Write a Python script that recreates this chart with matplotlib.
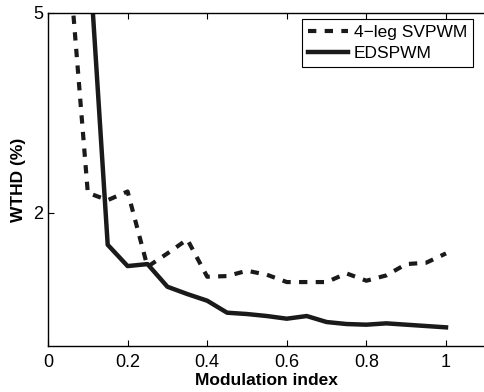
import matplotlib
matplotlib.use("Agg")
import matplotlib.pyplot as plt

plt.rcParams['font.family'] = ['Liberation Sans', 'DejaVu Sans']

m_index = [0.05, 0.10, 0.15, 0.20, 0.25, 0.30, 0.35, 0.40, 0.45, 0.50,
           0.55, 0.60, 0.65, 0.70, 0.75, 0.80, 0.85, 0.90, 0.95, 1.00]
svpwm = [6.0, 2.30, 2.19, 2.32, 1.19, 1.39, 1.60, 1.04, 1.05, 1.13,
         1.07, 0.96, 0.96, 0.96, 1.09, 0.98, 1.06, 1.23, 1.25, 1.39]
edspwm = [15.0, 6.2, 1.52, 1.20, 1.23, 0.89, 0.78, 0.68, 0.50, 0.48,
          0.45, 0.41, 0.45, 0.36, 0.33, 0.32, 0.34, 0.32, 0.30, 0.28]
xticks = [0, 0.2, 0.4, 0.6, 0.8, 1]
xticklabels = ['0', '0.2', '0.4', '0.6', '0.8', '1']
yticks = [2, 5]
yticklabels = ['2', '5']

fig = plt.figure(figsize=(4.84, 3.92), dpi=100)
ax = fig.add_axes([48/484, 1 - 346/392, 437.8/484, 333/392])

ax.plot(m_index, svpwm, color='#1a1a1a', lw=3.0, linestyle=(0, (2.0, 2.0)),
        label='4\u2212leg SVPWM', solid_capstyle='butt', dash_capstyle='butt')
ax.plot(m_index, edspwm, color='#1a1a1a', lw=3.2, label='EDSPWM')

ax.set_xlim(0, 1.1)
ax.set_ylim(0, 5)
ax.set_xticks(xticks)
ax.set_xticklabels(xticklabels)
ax.set_yticks(yticks)
ax.set_yticklabels(yticklabels)
ax.tick_params(direction='in', length=4, width=0.8, labelsize=13, top=True,
               right=False, colors='k')
ax.tick_params(axis='x', pad=6)
for s in ax.spines.values():
    s.set_linewidth(1.0)
ax.spines['right'].set_visible(False)

ax.set_xlabel('Modulation index', fontsize=12.5, fontweight='bold', labelpad=1)
ax.set_ylabel('WTHD (%)', fontsize=12.5, fontweight='bold', labelpad=5)

leg = ax.legend(loc='upper right', bbox_to_anchor=((473-48)/437.8, (346-19)/333),
                borderaxespad=0, fontsize=12.5, fancybox=False, framealpha=1,
                edgecolor='k', handlelength=2.3, handletextpad=0.35,
                labelspacing=0.3, borderpad=0.35)
leg.get_frame().set_linewidth(0.8)

fig.savefig('out.png', dpi=100)
